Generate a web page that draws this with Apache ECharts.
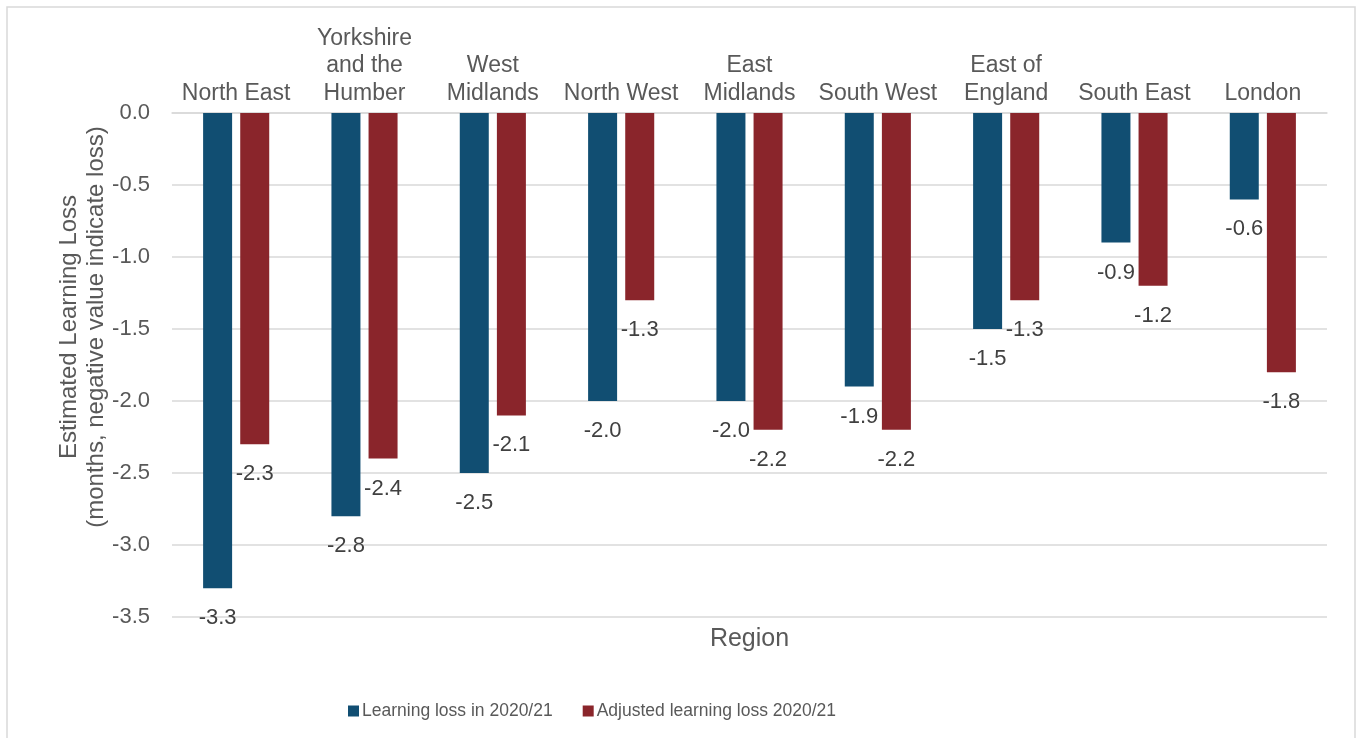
<!DOCTYPE html>
<html>
<head>
<meta charset="utf-8">
<script src="https://cdn.jsdelivr.net/npm/echarts@6/dist/echarts.min.js"></script>
<style>
html,body{margin:0;padding:0;background:#fff;}
#chart{width:1363px;height:738px;}
</style>
</head>
<body>
<div id="chart"></div>
<script>
const categories = ['North East', 'Yorkshire\nand the\nHumber', 'West\nMidlands', 'North West', 'East\nMidlands', 'South West', 'East of\nEngland', 'South East', 'London'];
const learningLoss = [-3.3, -2.8, -2.5, -2.0, -2.0, -1.9, -1.5, -0.9, -0.6];
const adjustedLoss = [-2.3, -2.4, -2.1, -1.3, -2.2, -2.2, -1.3, -1.2, -1.8];
const seriesNames = ['Learning loss in 2020/21', 'Adjusted learning loss 2020/21'];
const yTicks = { min: -3.5, max: 0, interval: 0.5 };

const FONT = '"Liberation Sans", Arial, sans-serif';
const chart = echarts.init(document.getElementById('chart'));
const labelCfg = {
  show: true, position: 'bottom', distance: 19,
  color: '#404040', fontSize: 22, fontFamily: FONT,
  formatter: p => p.value.toFixed(1)
};
chart.setOption({
  animation: false,
  backgroundColor: '#fff',
  textStyle: { fontFamily: FONT },
  graphic: [
    { type: 'rect', shape: { x: 7, y: 7, width: 1348, height: 740 },
      style: { fill: 'none', stroke: '#D9D9D9', lineWidth: 1.5 }, silent: true, z: -10 },
    { type: 'text', x: 83, y: 327, rotation: Math.PI / 2,
      style: { text: 'Estimated Learning Loss\n(months, negative value indicate loss)',
        fill: '#595959', font: '24px "Liberation Sans", Arial, sans-serif',
        align: 'center', verticalAlign: 'middle', lineHeight: 27 } }
  ],
  grid: { left: 172, right: 36, top: 113, bottom: 121, containLabel: false },
  legend: {
    data: seriesNames, left: 343, top: 697, itemWidth: 11, itemHeight: 11, itemGap: 30,
    icon: 'rect',
    textStyle: { color: '#595959', fontSize: 17.5, fontFamily: FONT, padding: [0, 0, 0, -2] }
  },
  xAxis: {
    type: 'category', position: 'top', data: categories,
    name: 'Region', nameLocation: 'middle', nameGap: -539,
    nameTextStyle: { color: '#595959', fontSize: 25, fontFamily: FONT },
    axisLine: { show: true, lineStyle: { color: '#D9D9D9', width: 1.5 } },
    axisTick: { show: false },
    axisLabel: { interval: 0, color: '#595959', fontSize: 23, lineHeight: 27.5, margin: 6, fontFamily: FONT }
  },
  yAxis: {
    type: 'value', min: yTicks.min, max: yTicks.max, interval: yTicks.interval,
    axisLine: { show: false }, axisTick: { show: false },
    axisLabel: { color: '#595959', fontSize: 22, margin: 22, fontFamily: FONT, formatter: v => v.toFixed(1) },
    splitLine: { lineStyle: { color: '#D9D9D9', width: 1.5 } }
  },
  series: [
    { name: seriesNames[0], type: 'bar', data: learningLoss, barWidth: 29, barGap: '28%',
      itemStyle: { color: '#114E72' }, label: labelCfg },
    { name: seriesNames[1], type: 'bar', data: adjustedLoss, barWidth: 29,
      itemStyle: { color: '#8A252B' }, label: labelCfg }
  ]
});
</script>
</body>
</html>
